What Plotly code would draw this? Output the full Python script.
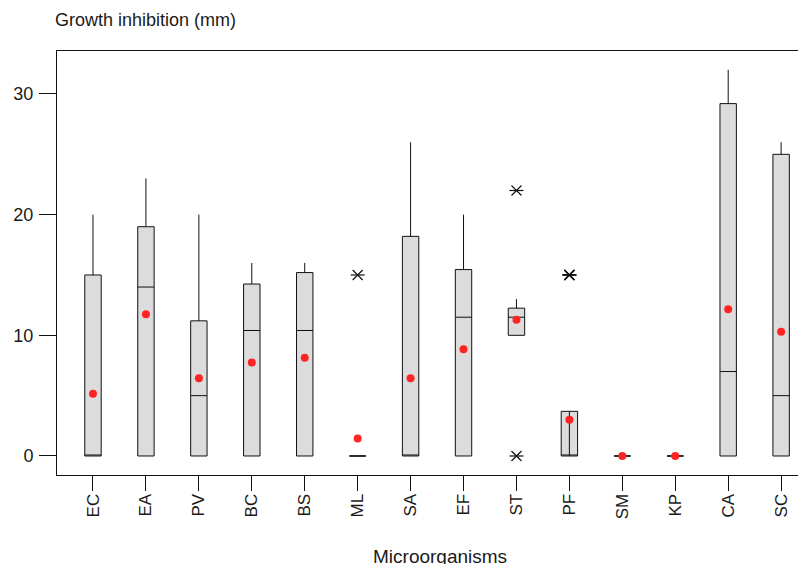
import plotly.graph_objects as go

categories = ["EC", "EA", "PV", "BC", "BS", "ML", "SA", "EF", "ST", "PF", "SM", "KP", "CA", "SC"]
q1 = [0, 0, 0, 0, 0, 0, 0, 0, 10, 0, 0, 0, 0, 0]
median = [0, 14, 5, 10.4, 10.4, 0, 0, 11.5, 11.5, 0, 0, 0, 7, 5]
q3 = [15, 19, 11.2, 14.25, 15.2, 0, 18.2, 15.45, 12.25, 3.7, 0, 0, 29.2, 25]
lower_whisker = [0, 0, 0, 0, 0, 0, 0, 0, 10, 0, 0, 0, 0, 0]
upper_whisker = [20, 23, 20, 16, 16, 0, 26, 20, 13, 3.7, 0, 0, 32, 26]
means = [5.15, 11.75, 6.45, 7.75, 8.15, 1.45, 6.45, 8.85, 11.3, 3.0, 0, 0, 12.15, 10.3]
outlier_cat = ["ML", "ST", "ST", "PF", "PF", "PF"]
outlier_val = [15, 22, 0, 15, 15, 15]
y_ticks = [0, 10, 20, 30]

FONT = "Liberation Sans, Arial, sans-serif"
TXT = "#1a1a1a"
LINE = "#111111"

# page body has an 8px default margin; figure is sized/offset to compensate
OFF = 8
W, H = 806 - OFF, 564 - OFF
L, T, B = 57 - OFF, 51 - OFF, 564 - 475
plot_h = H - T - B
plot_w = W - L

fig = go.Figure()
fig.add_trace(go.Box(
    x=categories, q1=q1, median=median, q3=q3,
    lowerfence=lower_whisker, upperfence=upper_whisker,
    fillcolor="#dcdcdc", line=dict(color=LINE, width=1),
    whiskerwidth=0, width=0.31, boxpoints=False, showlegend=False,
    hoverinfo="skip",
))
# vertical line inside PF box
pf = categories.index("PF")
fig.add_trace(go.Scatter(
    x=[categories[pf], categories[pf]], y=[q1[pf], q3[pf]], mode="lines",
    line=dict(color=LINE, width=1), showlegend=False, hoverinfo="skip",
))
# outliers (asterisk = x + horizontal bar)
for sym in ["x-thin-open", "line-ew-open"]:
    fig.add_trace(go.Scatter(
        x=outlier_cat, y=outlier_val, mode="markers",
        marker=dict(symbol=sym, size=10, color=LINE, line=dict(color=LINE, width=1.2)),
        showlegend=False, hoverinfo="skip",
    ))
fig.add_trace(go.Scatter(
    x=categories, y=means, mode="markers",
    marker=dict(color="#ff2424", size=8, line=dict(width=0)),
    showlegend=False,
))

fig.update_layout(
    width=W, height=H,
    margin=dict(l=L, r=0, t=T, b=B),
    paper_bgcolor="white", plot_bgcolor="white",
    font=dict(family=FONT, color=TXT),
    title=dict(text="Growth inhibition (mm)", x=(55 - OFF) / W, xanchor="left",
               y=1 - (20 - OFF) / H, yanchor="middle", font=dict(size=18, color=TXT)),
    xaxis=dict(
        type="category", categoryorder="array", categoryarray=categories,
        range=[-0.68, 13.47], showgrid=False, zeroline=False, automargin=False,
        showline=True, mirror=True, linecolor=LINE, linewidth=1,
        ticks="outside", ticklen=15, tickcolor=LINE, tickwidth=1,
        tickangle=-90, tickfont=dict(size=17, color=TXT), ticklabelstandoff=-4,
    ),
    yaxis=dict(
        range=[-1.575, 33.56], tickvals=y_ticks, showgrid=False, zeroline=False,
        automargin=False,
        showline=True, linecolor=LINE, linewidth=1,
        ticks="outside", ticklen=17, tickcolor=LINE, tickwidth=1,
        tickfont=dict(size=18, color=TXT), ticklabelstandoff=2,
    ),
    annotations=[dict(
        text="Microorganisms", xref="paper", yref="paper",
        x=(440 - 57) / plot_w, y=-(556 - 475) / plot_h, xanchor="center", yanchor="middle",
        showarrow=False, font=dict(size=19, color=TXT),
    )],
)

fig.write_html("out.html")
